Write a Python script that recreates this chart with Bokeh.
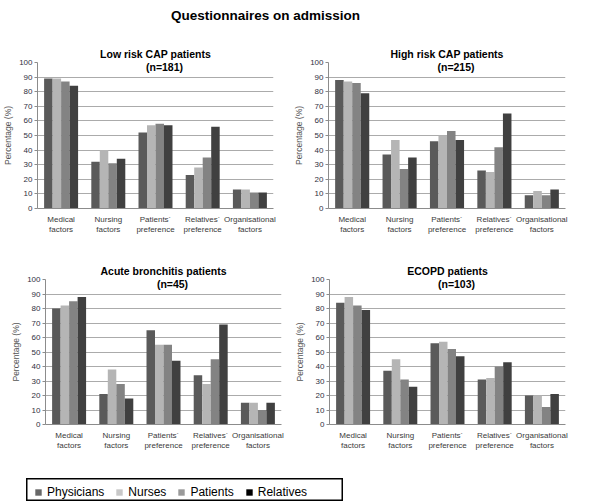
import math
from bokeh.plotting import figure
from bokeh.models import (Range1d, FactorRange, Label, Legend, LegendItem,
                          FixedTicker, Spacer, ColumnDataSource)
from bokeh.layouts import column, row
from bokeh.transform import dodge
from bokeh.embed import file_html
from bokeh.resources import INLINE

FONT = "Liberation Sans"

# ---------------- data ----------------
categories = ["Medical\nfactors", "Nursing\nfactors", "Patients´\npreference",
              "Relatives´\npreference", "Organisational\nfactors"]
series = ["Physicians", "Nurses", "Patients", "Relatives"]

# Low risk CAP patients (n=181)
low_physicians = [89, 32, 52, 23, 13]
low_nurses = [89, 40, 57, 28, 13]
low_patients = [87, 31, 58, 35, 11]
low_relatives = [84, 34, 57, 56, 11]

# High risk CAP patients (n=215)
high_physicians = [88, 37, 46, 26, 9]
high_nurses = [87, 47, 50, 25, 12]
high_patients = [86, 27, 53, 42, 9]
high_relatives = [79, 35, 47, 65, 13]

# Acute bronchitis patients (n=45)
ab_physicians = [80, 21, 65, 34, 15]
ab_nurses = [82, 38, 55, 28, 15]
ab_patients = [85, 28, 55, 45, 10]
ab_relatives = [88, 18, 44, 69, 15]

# ECOPD patients (n=103)
ecopd_physicians = [84, 37, 56, 31, 20]
ecopd_nurses = [88, 45, 57, 32, 20]
ecopd_patients = [82, 31, 52, 40, 12]
ecopd_relatives = [79, 26, 47, 43, 21]

y_ticks = [0, 10, 20, 30, 40, 50, 60, 70, 80, 90, 100]

# ---------------- style ----------------
BAR_COLORS = ["#5a5a5a", "#b5b5b5", "#838383", "#404040"]
LEGEND_COLORS = ["#686868", "#c8c8c8", "#9a9a9a", "#000000"]
AXIS_COLOR = "#8c8c8c"
GRID_COLOR = "#ababab"
TEXT_COLOR = "#3a3a3a"
TICK_TEXT_COLOR = "#30303f"


def make_panel(title, subtitle, values, width, height, left, right, top, bottom, pad):
    p = figure(width=width, height=height, x_range=FactorRange(*categories),
               y_range=Range1d(0, 100), toolbar_location=None, output_backend="svg",
               min_border_left=left, min_border_right=right,
               min_border_top=top, min_border_bottom=bottom, title=title)
    data = {"cat": categories}
    for s, v in zip(series, values):
        data[s] = v
    src = ColumnDataSource(data)
    bw = 0.18
    for i, s in enumerate(series):
        p.vbar(x=dodge("cat", (i - 1.5) * bw, range=p.x_range), top=s, width=bw,
               source=src, fill_color=BAR_COLORS[i], line_color=None)

    p.title.align = "center"
    p.title.offset = 9
    p.title.standoff = 6
    p.title.text_font = FONT
    p.title.text_font_size = "10.5px"
    p.title.text_font_style = "bold"
    p.title.text_color = "black"

    p.outline_line_color = None
    p.xgrid.grid_line_color = None
    p.ygrid.grid_line_color = GRID_COLOR
    ticker = FixedTicker(ticks=y_ticks)
    p.yaxis.ticker = ticker
    p.ygrid.ticker = ticker

    p.xaxis.axis_line_color = AXIS_COLOR
    p.xaxis.major_tick_line_color = None
    p.xaxis.major_label_text_font = FONT
    p.xaxis.major_label_text_font_size = "8px"
    p.xaxis.major_label_text_color = TEXT_COLOR
    p.xaxis.major_label_standoff = 0

    p.yaxis.axis_line_color = AXIS_COLOR
    p.yaxis.major_tick_line_color = AXIS_COLOR
    p.yaxis.minor_tick_line_color = None
    p.yaxis.major_tick_out = 3
    p.yaxis.major_tick_in = 0
    p.yaxis.major_label_standoff = 2
    p.yaxis.major_label_text_font = FONT
    p.yaxis.major_label_text_font_size = "8px"
    p.yaxis.major_label_text_color = TICK_TEXT_COLOR
    p.yaxis.axis_label = "Percentage (%)"
    p.yaxis.axis_label_text_font = FONT
    p.yaxis.axis_label_text_font_size = "8.5px"
    p.yaxis.axis_label_text_font_style = "normal"
    p.yaxis.axis_label_text_color = "#555555"
    p.yaxis.axis_label_standoff = 3

    lab = Label(x=2.5, y=100, x_offset=9, y_offset=-4,
                text=subtitle, text_align="center", text_baseline="middle",
                text_font=FONT, text_font_size="10.5px", text_font_style="bold",
                text_color="black",
                background_fill_color="white", padding={"x": pad, "y": 0})
    p.add_layout(lab)
    return p


p1 = make_panel("Low risk CAP patients", "(n=181)",
                [low_physicians, low_nurses, low_patients, low_relatives],
                291, 214, 36, 18, 24, 44, 48)
p2 = make_panel("High risk CAP patients", "(n=215)",
                [high_physicians, high_nurses, high_patients, high_relatives],
                309, 214, 37, 35, 24, 44, 48)
p3 = make_panel("Acute bronchitis patients", "(n=45)",
                [ab_physicians, ab_nurses, ab_patients, ab_relatives],
                291, 214, 45, 10, 27, 42, 52)
p4 = make_panel("ECOPD patients", "(n=103)",
                [ecopd_physicians, ecopd_nurses, ecopd_patients, ecopd_relatives],
                309, 214, 38, 35, 27, 42, 44)

# main title
tf = figure(width=600, height=38, toolbar_location=None, output_backend="svg",
            x_range=Range1d(0, 1), y_range=Range1d(0, 1),
            min_border_left=0, min_border_right=70, min_border_top=0, min_border_bottom=0,
            title="Questionnaires on admission")
tf.title.align = "center"
tf.title.text_font = FONT
tf.title.text_font_size = "13.5px"
tf.title.text_font_style = "bold"
tf.title.text_color = "black"
tf.axis.visible = False
tf.grid.visible = False
tf.outline_line_color = None

# legend
lf = figure(width=317, height=23, toolbar_location=None, output_backend="svg",
            x_range=Range1d(0, 1), y_range=Range1d(0, 1), min_border=0)
lf.axis.visible = False
lf.grid.visible = False
lf.outline_line_color = "black"
lf.outline_line_width = 2
items = []
for i, s in enumerate(series):
    r = lf.vbar(x=[0], top=[0], bottom=[0], width=0.1,
                fill_color=LEGEND_COLORS[i], line_color=None)
    items.append(LegendItem(label=s, renderers=[r]))
leg = Legend(items=items, orientation="horizontal", location=(8, 2),
             border_line_color=None, background_fill_alpha=0,
             glyph_width=8, glyph_height=8, label_text_font=FONT,
             label_text_font_size="12px", label_text_color="black",
             spacing=11, padding=2, margin=0, label_standoff=5,
             label_height=12)
lf.add_layout(leg, "center")

layout = column(tf, row(p1, p2), row(p3, p4),
                Spacer(width=10, height=12),
                row(Spacer(width=26, height=23), lf))

open("out.html", "w").write(file_html(layout, INLINE))
